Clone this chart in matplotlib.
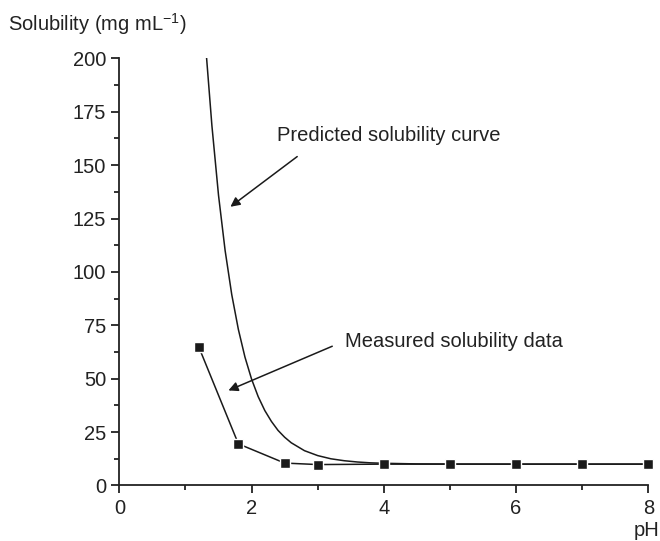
import numpy as np
import matplotlib.pyplot as plt
from matplotlib.ticker import MultipleLocator

plt.rcParams['font.family'] = ['Liberation Sans', 'DejaVu Sans']

# predicted solubility curve (pH, mg/mL)
pred_ph  = [1.32, 1.4, 1.5, 1.6, 1.7, 1.8, 1.9, 2.0, 2.1, 2.2, 2.3, 2.4, 2.5,
            2.6, 2.8, 3.0, 3.2, 3.4, 3.6, 3.8, 4.0, 4.5, 5.0, 6.0, 7.0, 8.0]
pred_sol = [200, 168.5, 135.9, 110, 89.4, 73.1, 60.1, 49.8, 41.6, 35.1, 30.0,
            25.8, 22.6, 20.0, 16.3, 14.0, 12.5, 11.6, 11.0, 10.6, 10.4, 10.1,
            10.04, 10.0, 10.0, 10.0]

# measured solubility
meas_ph  = [1.2, 1.8, 2.5, 3.0, 4.0, 5.0, 6.0, 7.0, 8.0]
meas_sol = [65, 19.5, 10.5, 9.8, 10, 10, 10, 10, 10]

fs = 14.5

fig = plt.figure(figsize=(6.6, 5.41), dpi=100)
ax = fig.add_axes([0.1808, 0.1026, 0.8015, 0.7896])

ax.plot(pred_ph, pred_sol, color='#1a1a1a', lw=1.1, clip_on=True)
ax.plot(meas_ph, meas_sol, color='#1a1a1a', lw=1.1, marker='s', ms=7.5,
        mfc='#1a1a1a', mec='white', mew=1.0, clip_on=False, zorder=3)

ax.set_xlim(0, 8)
ax.set_ylim(0, 200)
ax.xaxis.set_major_locator(MultipleLocator(2))
ax.xaxis.set_minor_locator(MultipleLocator(1))
ax.yaxis.set_major_locator(MultipleLocator(25))
ax.yaxis.set_minor_locator(MultipleLocator(12.5))

for side in ['top', 'right']:
    ax.spines[side].set_visible(False)
for side in ['left', 'bottom']:
    ax.spines[side].set_linewidth(1.3)
    ax.spines[side].set_color('#222222')

ax.tick_params(which='major', direction='out', length=6, width=1.3,
               labelsize=fs, colors='#222222', pad=3.5)
ax.tick_params(which='minor', direction='out', length=3.5, width=1.3,
               colors='#222222')

fig.text(8/660, 1 - 24/541, 'Solubility (mg mL$^{\\mathregular{-1}}$)',
         fontsize=fs, ha='left', va='center', color='#222222')
fig.text(647/660, 1 - 530/541, 'pH', fontsize=fs, ha='center',
         va='center', color='#222222')

arrow = dict(arrowstyle='-|>', color='#1a1a1a', lw=1.1, mutation_scale=14,
             shrinkA=0, shrinkB=0)
ax.annotate('', xy=(1.68, 130.5), xytext=(2.69, 154), arrowprops=arrow)
ax.text(2.38, 164, 'Predicted solubility curve', fontsize=fs,
        ha='left', va='center', color='#222222')
ax.annotate('', xy=(1.65, 44.5), xytext=(3.22, 65.2), arrowprops=arrow)
ax.text(3.42, 67.5, 'Measured solubility data', fontsize=fs,
        ha='left', va='center', color='#222222')

fig.savefig('out.png', dpi=100)
